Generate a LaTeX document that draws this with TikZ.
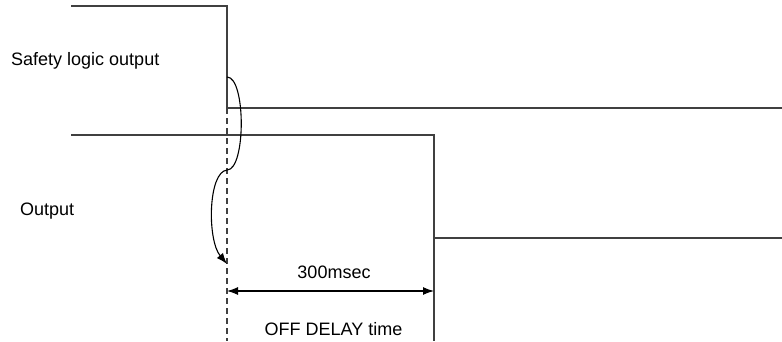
\documentclass[tikz,border=0pt]{standalone}
\usepackage{fontspec}
\setmainfont{Liberation Sans}
\usetikzlibrary{arrows.meta}
\begin{document}
\begin{tikzpicture}[x=1pt,y=-1pt,
  signal/.style={draw=black!75,line width=1.5pt},
  guide/.style={draw=black!75,line width=1.5pt,dash pattern=on 6pt off 4pt},
  pointer/.style={draw=black,line width=1.1pt},
  lbl/.style={inner sep=0pt,font=\fontsize{18}{21}\selectfont}]
\useasboundingbox (0,0) rectangle (782,341);
% waveform corners
\coordinate (s0) at (71,6);
\coordinate (s1) at (227,6);
\coordinate (s2) at (227,108);
\coordinate (s3) at (782,108);
\coordinate (o0) at (71,135);
\coordinate (o1) at (434,135);
\coordinate (o2) at (434,238);
\coordinate (o3) at (782,238);
\coordinate (ob) at (434,341);
\coordinate (db) at (227,341);
\coordinate (c0) at (227,77);
\coordinate (c1) at (227,170);
\coordinate (c2) at (227,264);
\coordinate (a0) at (227,291);
\coordinate (a1) at (434,291);
% signals
\draw[signal] (s0) -- (s1) -- (s2) -- (s3);
\draw[signal] (o0) -- (o1) -- (o2) -- (o3);
\draw[signal] (o2) -- (ob);
\draw[guide] (s2) -- (db);
% curved pointer
\draw[pointer,-{Latex[length=11pt,width=8pt]}] (c0) .. controls (246,77) and (246,170) .. (c1)
  .. controls (208,172) and (207,240) .. (c2);
% delay arrow
\draw[pointer,{Latex[length=11pt,width=8pt]}-{Latex[length=11pt,width=8pt]}] (a0) -- (a1);
% labels
\node[lbl,anchor=base west] (l1) at (11,65) {Safety logic output};
\node[lbl,anchor=base west] (l2) at (20,215) {Output};
\node[lbl,anchor=base] (l3) at (334,278) {300msec};
\node[lbl,anchor=base] (l4) at (333.5,335) {OFF DELAY time};
\end{tikzpicture}
\end{document}
